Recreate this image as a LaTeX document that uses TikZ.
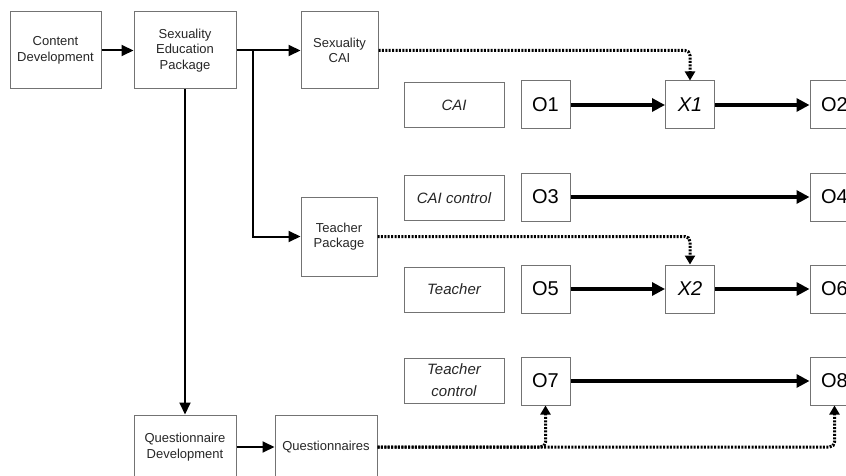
\documentclass[tikz,border=0pt]{standalone}
\usepackage{fontspec}
\setmainfont{Liberation Sans}
\usepackage{tikz}
\usetikzlibrary{arrows.meta}

\begin{document}
\begin{tikzpicture}[x=1pt, y=-1pt,
  box/.style={draw=black!55, line width=1pt, inner sep=0pt, align=center,
    font=\fontsize{13}{15.5}\selectfont, text=black!85},
  cond/.style={box, minimum width=100pt, minimum height=45pt,
    font=\fontsize{15}{22}\selectfont\itshape},
  obs/.style={box, minimum width=49pt, minimum height=48pt,
    font=\fontsize{20}{24}\selectfont, text=black},
  arr/.style={line width=2pt, -{Triangle[length=12pt,width=11pt]}},
  flow/.style={line width=3.2pt, -{Triangle[length=13pt,width=13pt]}},
  link/.style={line width=3pt, dash pattern=on 2pt off 1.4pt, rounded corners=5pt,
    -{Triangle[length=9pt,width=10pt]}}]

  \useasboundingbox (0,0) rectangle (846,476);
  \clip (0,0) rectangle (846,476);

  % development boxes
  \node[box, minimum width=91pt, minimum height=77pt]  (cdev)  at (55.5,50.5) {Content\\Development};
  \node[box, minimum width=102pt, minimum height=77pt] (sep)   at (185,50.5)  {Sexuality\\Education\\Package};
  \node[box, minimum width=77pt, minimum height=77pt]  (scai)  at (339.5,50.5) {Sexuality\\CAI};
  \node[box, minimum width=76pt, minimum height=79pt]  (tpack) at (339,236.5) {Teacher\\Package};
  \node[box, minimum width=102pt, minimum height=64pt] (qdev)  at (185,447)  {Questionnaire\\Development};
  \node[box, minimum width=102pt, minimum height=64pt] (quest) at (326,447)  {Questionnaires};
  \coordinate (split) at (253,50.5);

  \path[arr] (cdev) edge (sep);
  \path[arr] (sep) edge (scai);
  \draw[arr] (split) |- (tpack.west);
  \draw[arr] (sep.south) -- (qdev.north);
  \path[arr] (qdev) edge (quest);

  % groups
  \node[cond] (cai)      at (454,105.5) {CAI};
  \node[cond] (caictl)   at (454,198)   {CAI control};
  \node[cond] (teach)    at (454,289.5) {Teacher};
  \node[cond] (teachctl) at (454,380.5) {Teacher\\control};

  % observations
  \node[obs] (o1) at (545.5,105) {O1};
  \node[obs] (x1) at (690,105)   {\itshape X1};
  \node[obs] (o2) at (834.5,105) {O2};
  \node[obs] (o3) at (545.5,197) {O3};
  \node[obs] (o4) at (834.5,197) {O4};
  \node[obs] (o5) at (545.5,289) {O5};
  \node[obs] (x2) at (690,289)   {\itshape X2};
  \node[obs] (o6) at (834.5,289) {O6};
  \node[obs] (o7) at (545.5,381) {O7};
  \node[obs] (o8) at (834.5,381) {O8};

  \path[flow] (o1) edge (x1);
  \path[flow] (x1) edge (o2);
  \path[flow] (o3) edge (o4);
  \path[flow] (o5) edge (x2);
  \path[flow] (x2) edge (o6);
  \path[flow] (o7) edge (o8);

  % treatments and tests
  \draw[link] (scai.east) -| (x1.north);
  \draw[link] (tpack.east) -| (x2.north);
  \draw[link] (quest.east) -| (o7.south);
  \draw[link] (quest.east) -| (o8.south);
\end{tikzpicture}
\end{document}
